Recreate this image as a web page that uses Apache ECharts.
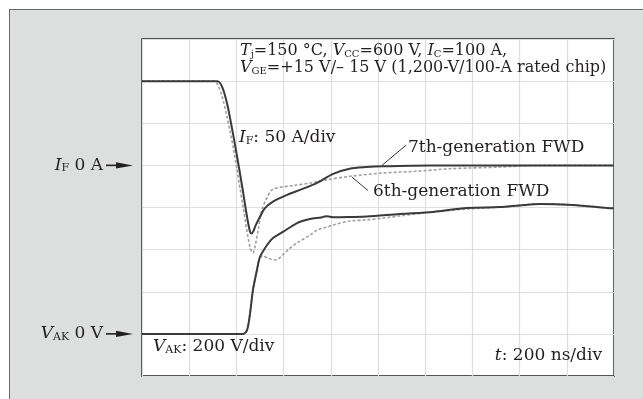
<!DOCTYPE html>
<html><head><meta charset="utf-8">
<script src="https://cdn.jsdelivr.net/npm/echarts@6/dist/echarts.min.js"></script>
<style>
html,body{margin:0;padding:0;background:#fff;overflow:hidden;}
#frame{position:absolute;left:9px;top:9px;width:700px;height:500px;background:#dddfde;border-left:1px solid #6a6a6a;border-top:1px solid #6a6a6a;}
#chart{position:absolute;left:0;top:0;width:643px;height:399px;}
</style></head>
<body>
<div id="frame"></div>
<div id="chart"></div>
<script>
// time axis: 200 ns/div, 10 divisions
const timeTicks = [0, 200, 400, 600, 800, 1000, 1200, 1400, 1600, 1800, 2000];
// I_F (A), 50 A/div
const tIF7 = [0, 100, 200, 320, 340, 360, 380, 400, 425, 445, 458, 465, 472, 482, 500, 520, 555, 615, 670, 740, 810, 880, 950, 1020, 1230, 1500, 1800, 2000];
const iIF7 = [100, 100, 100, 100, 93, 74, 46, 15, -26, -61, -79, -81, -78, -71, -61, -51, -43, -35, -29, -21, -10, -4, -2, -1, 0, 0, 0, 0];
const tIF6 = [0, 150, 300, 315, 343, 386, 428, 458, 470, 480, 492, 508, 530, 551, 585, 640, 712, 784, 881, 1021, 1165, 1305, 1517, 1686, 2000];
const iIF6 = [100, 100, 100, 99, 78, 22, -49, -98, -104, -95, -77, -53, -38, -29, -26, -24, -21, -17, -13, -9, -7, -4, -2, 0, 0];
// V_AK (V), 200 V/div
const tVAK7 = [0, 200, 428, 445, 458, 470, 487, 500, 530, 555, 597, 657, 712, 760, 780, 800, 830, 881, 953, 1093, 1233, 1377, 1517, 1600, 1686, 1826, 1970, 2000];
const vVAK7 = [0, 0, 0, 18, 99, 208, 303, 365, 422, 455, 484, 526, 545, 553, 559, 555, 554, 555, 557, 569, 579, 598, 602, 610, 617, 612, 598, 596];
const tVAK6 = [0, 200, 428, 445, 458, 470, 487, 500, 512, 530, 548, 564, 580, 597, 620, 657, 712, 742, 784, 809, 881, 953, 1093, 1233, 1377, 1517, 1600, 1686, 1826, 1970, 2000];
const vVAK6 = [0, 0, 0, 18, 99, 208, 303, 362, 368, 362, 354, 351, 358, 375, 400, 432, 469, 493, 507, 517, 536, 541, 560, 579, 593, 602, 610, 617, 612, 598, 596];
const ifAxis = {min: -250, max: 150, step: 50};
const vakAxis = {min: -200, max: 1400, step: 200};

const zip = (a, b) => a.map((x, k) => [x, b[k]]);
const FF = 'DejaVu Serif';
const TC = '#231f20';
function rich(fs) {
  return {
    n: {fontFamily: FF, fontSize: fs, color: TC},
    i: {fontFamily: FF, fontSize: fs, color: TC, fontStyle: 'italic'},
    s: {fontFamily: FF, fontSize: Math.round(fs * 0.62), color: TC, padding: [Math.round(fs*0.35), 0, 0, 0]}
  };
}
const chart = echarts.init(document.getElementById('chart'), null, {renderer: 'canvas'});
const G = {left: 142, top: 39, width: 472, height: 337};
const option = {
  animation: false,
  backgroundColor: 'transparent',
  grid: Object.assign({show: true, backgroundColor: '#ffffff', borderColor: '#1e1e1e', borderWidth: 1.5}, G),
  xAxis: {type: 'value', min: timeTicks[0], max: timeTicks[timeTicks.length - 1], interval: 200,
    axisLine: {show: false}, axisTick: {show: false}, axisLabel: {show: false},
    splitLine: {show: true, lineStyle: {color: '#dedede', width: 1.2}}},
  yAxis: [
    {type: 'value', min: ifAxis.min, max: ifAxis.max, interval: ifAxis.step, position: 'left',
      axisLine: {show: false}, axisTick: {show: false},
      splitLine: {show: true, lineStyle: {color: '#dedede', width: 1.2}},
      axisLabel: {show: true, margin: 39, formatter: v => v === 0 ? '{i|I}{s|F}{n| 0 A}' : '', rich: rich(17)}},
    {type: 'value', min: vakAxis.min, max: vakAxis.max, interval: vakAxis.step, position: 'left',
      axisLine: {show: false}, axisTick: {show: false}, splitLine: {show: false},
      axisLabel: {show: true, margin: 39, formatter: v => v === 0 ? '{i|V}{s|AK}{n| 0 V}' : '', rich: rich(17)}}
  ],
  series: [
    {name: '6th I_F', type: 'line', yAxisIndex: 0, data: zip(tIF6, iIF6), showSymbol: false, smooth: 0.3,
      lineStyle: {color: '#a0a0a0', width: 1.6, type: [3, 2]}, z: 2},
    {name: '6th V_AK', type: 'line', yAxisIndex: 1, data: zip(tVAK6, vVAK6), showSymbol: false, smooth: 0.3,
      lineStyle: {color: '#a0a0a0', width: 1.6, type: [3, 2]}, z: 2},
    {name: '7th I_F', type: 'line', yAxisIndex: 0, data: zip(tIF7, iIF7), showSymbol: false, smooth: 0.3,
      lineStyle: {color: '#3a3a3a', width: 2}, z: 3,
      markLine: {silent: true, symbol: 'none', label: {show: false}, lineStyle: {color: '#333', width: 1, type: 'solid'},
        data: [[{coord: [1017, 0]}, {coord: [1119, 24]}], [{coord: [890, -14]}, {coord: [958, -30]}]]}},
    {name: '7th V_AK', type: 'line', yAxisIndex: 1, data: zip(tVAK7, vVAK7), showSymbol: false, smooth: 0.3,
      lineStyle: {color: '#3a3a3a', width: 2}, z: 3}
  ]
};
chart.setOption(option);

function txt(x, y, text, fs, align) {
  return {type: 'text', x: x, y: y, z: 10, style: {text: text, rich: rich(fs), fill: TC, align: align || 'left', verticalAlign: 'middle', fontFamily: FF, fontSize: fs}};
}
function arrow(y) {
  return {type: 'group', z: 10, children: [
    {type: 'line', shape: {x1: 106, y1: y, x2: 120, y2: y}, style: {stroke: '#231f20', lineWidth: 1.6}},
    {type: 'polygon', shape: {points: [[116, y - 3.2], [133, y], [116, y + 3.2]]}, style: {fill: '#231f20'}}
  ]};
}
const yIF0 = chart.convertToPixel({yAxisIndex: 0}, 0);
const yV0 = chart.convertToPixel({yAxisIndex: 1}, 0);
chart.setOption({graphic: [
  arrow(yIF0), arrow(yV0),
  txt(240, 51, '{i|T}{s|j}{n|=150 °C, }{i|V}{s|CC}{n|=600 V, }{i|I}{s|C}{n|=100 A,}', 16),
  txt(240, 68, '{i|V}{s|GE}{n|=+15 V/– 15 V (1,200-V/100-A rated chip)}', 16),
  txt(239, 138, '{i|I}{s|F}{n|: 50 A/div}', 17),
  txt(408, 148, '{n|7th-generation FWD}', 17),
  txt(373, 192, '{n|6th-generation FWD}', 17),
  txt(153, 347, '{i|V}{s|AK}{n|: 200 V/div}', 17),
  txt(602, 356, '{i|t}{n|: 200 ns/div}', 17, 'right')
]});
</script>
</body></html>
